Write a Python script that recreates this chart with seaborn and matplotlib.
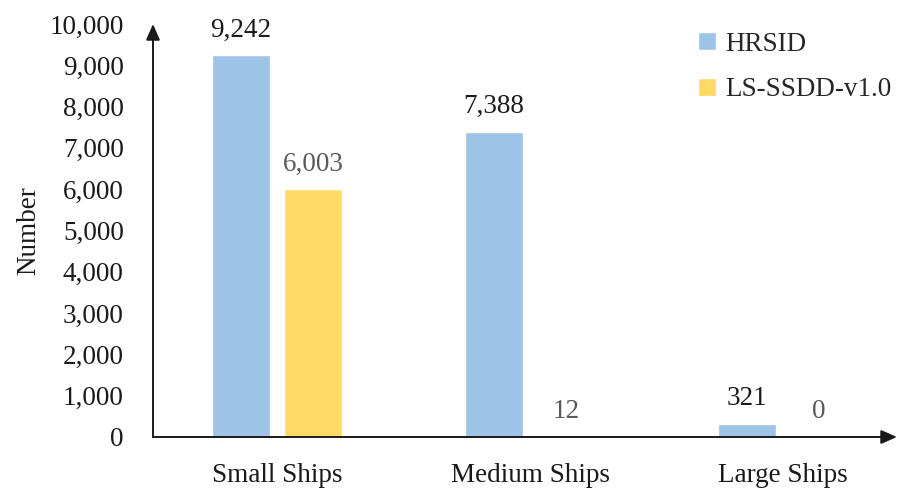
import matplotlib
matplotlib.use("Agg")
import matplotlib.pyplot as plt
import seaborn as sns
import pandas as pd

categories = ["Small Ships", "Medium Ships", "Large Ships"]
datasets = ["HRSID", "LS-SSDD-v1.0"]
hrsid_counts = [9242, 7388, 321]
lsssdd_counts = [6003, 12, 0]
y_ticks = [0, 1000, 2000, 3000, 4000, 5000, 6000, 7000, 8000, 9000, 10000]

palette = {"HRSID": "#9DC3E6", "LS-SSDD-v1.0": "#FFD966"}
label_colors = {"HRSID": "#1a1a1a", "LS-SSDD-v1.0": "#595959"}

df = pd.DataFrame({
    "Category": categories * 2,
    "Dataset": [datasets[0]] * 3 + [datasets[1]] * 3,
    "Number": hrsid_counts + lsssdd_counts,
})

sns.set_theme(style="white")
plt.rcParams["font.family"] = ["Liberation Serif", "DejaVu Serif"]
FS = 19.5

fig = plt.figure(figsize=(9.03, 4.92), dpi=100)
ax = fig.add_axes([153 / 903, 55 / 492, 744 / 903, 413 / 492])

sns.barplot(data=df, x="Category", y="Number", hue="Dataset",
            order=categories, hue_order=datasets, palette=palette,
            width=0.57, gap=0.2, saturation=1, ax=ax, legend=True)

for container, name in zip(ax.containers, datasets):
    ax.bar_label(container, labels=[f"{v:,.0f}" for v in container.datavalues],
                 padding=9, fontsize=FS, color=label_colors[name])

ax.set_xlim(-0.49, 2.45)
ax.set_ylim(0, 10000)
ax.set_yticks(y_ticks)
ax.set_yticklabels([f"{v:,}" for v in y_ticks])
ax.tick_params(axis="y", length=0, pad=21, labelsize=FS, labelcolor="#1a1a1a")
ax.tick_params(axis="x", length=0, pad=19, labelsize=FS, labelcolor="#1a1a1a")
ax.set_xlabel("")
ax.set_ylabel("Number", fontsize=FS, color="#1a1a1a", labelpad=6)

for s in ax.spines.values():
    s.set_visible(False)

arrow = dict(arrowstyle="-|>,head_length=0.8,head_width=0.35", color="#1a1a1a",
             lw=1.4, shrinkA=0, shrinkB=0)
ax.annotate("", xy=(0, 1.0), xytext=(0, 0), xycoords="axes fraction",
            textcoords="axes fraction", arrowprops=arrow, annotation_clip=False)
ax.annotate("", xy=(1.0, 0), xytext=(0, 0), xycoords="axes fraction",
            textcoords="axes fraction", arrowprops=arrow, annotation_clip=False)

leg = ax.legend(loc="upper left", bbox_to_anchor=(0.70, 1.04), frameon=False,
                fontsize=FS, handlelength=0.65, handleheight=0.65,
                handletextpad=0.35, labelspacing=0.75)

fig.savefig("out.png", dpi=100)
